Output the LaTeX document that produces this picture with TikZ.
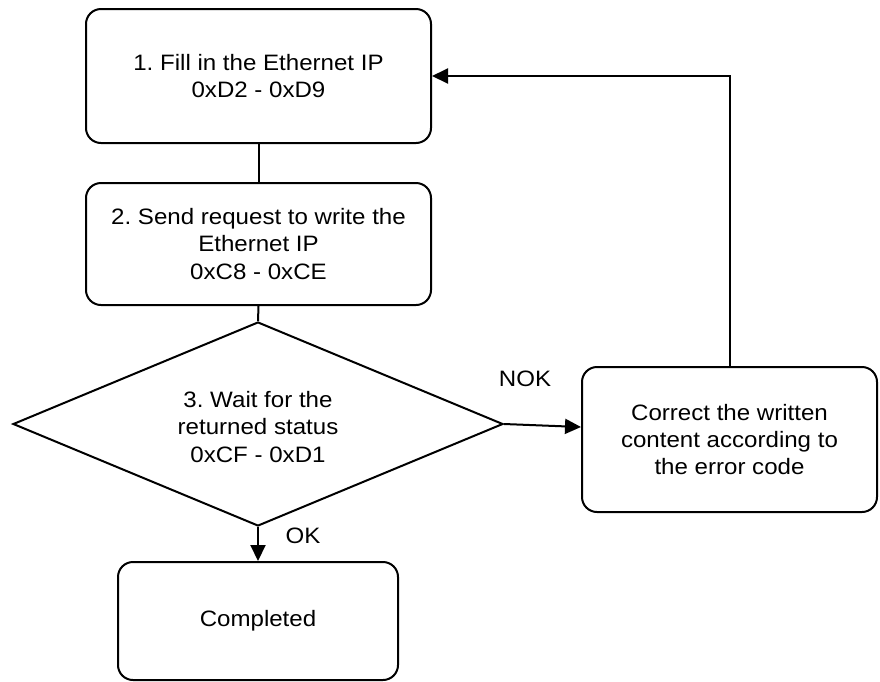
\documentclass[tikz,border=0pt]{standalone}
\usepackage{fontspec}
\setmainfont{Liberation Sans}[FakeStretch=1.08]
\frenchspacing
\usetikzlibrary{shapes.geometric,arrows.meta}
\begin{document}
\begin{tikzpicture}[x=1pt,y=-1pt,
  every node/.style={font=\fontsize{22.3}{27.3}\selectfont, align=center},
  stepbox/.style={draw, line width=2pt, rounded corners=15pt, inner sep=0pt},
  decision/.style={draw, diamond, aspect=2.4, line width=2pt, inner sep=0pt},
  conn/.style={line width=2pt},
  arr/.style={line width=2pt, -{Triangle[length=16pt,width=15pt]}},
  lbl/.style={inner sep=0pt}]
\useasboundingbox (0,0) rectangle (880,681);
\node[stepbox, minimum width=345pt, minimum height=134pt] (b1) at (258.5,76) {1. Fill in the Ethernet IP\\0xD2 - 0xD9};
\node[stepbox, minimum width=345pt, minimum height=122pt] (b2) at (258.5,244) {2. Send request to write the\\Ethernet IP\\0xC8 - 0xCE};
\node[decision, minimum width=490pt, minimum height=204pt] (d) at (258,424) {\raisebox{0pt}[\dimexpr\height+11pt\relax][\depth]{\begin{tabular}{@{}c@{}}3. Wait for the\\returned status\\0xCF - 0xD1\end{tabular}}};
\node[stepbox, minimum width=280pt, minimum height=118pt] (done) at (258,621) {Completed};
\node[stepbox, minimum width=295pt, minimum height=145pt] (c) at (729.5,439.5) {Correct the written\\content according to\\the error code};
\draw[conn] (b1.south) -- (b2.north);
\draw[conn] (b2.south) -- (d.north);
\draw[arr] (d.south) -- (done.north);
\draw[arr] (d.east) -- ([yshift=-3pt]c.west |- d.east);
\draw[arr] (c.north) |- (b1.east);
\node[lbl] (ok) at (303,536) {OK};
\node[lbl] (nok) at (525,379) {NOK};
\end{tikzpicture}
\end{document}
